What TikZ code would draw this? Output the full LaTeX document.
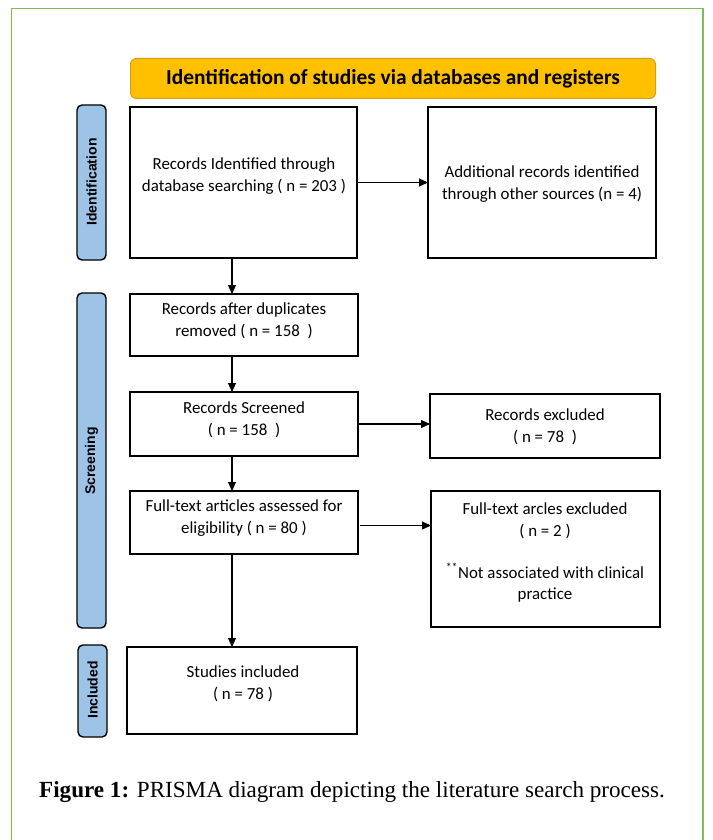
\documentclass[tikz,border=0pt]{standalone}
\usepackage{fontspec}
\setmainfont{Carlito}
\newfontfamily\arialf{Liberation Sans}
\newfontfamily\capf{Liberation Serif}
\usetikzlibrary{arrows.meta}
\definecolor{sideblue}{HTML}{9DC3E6}
\definecolor{bannerfill}{HTML}{FFC000}
\definecolor{bannerdraw}{HTML}{D4A017}
\definecolor{framegreen}{HTML}{7DBE55}
\begin{document}
\begin{tikzpicture}[x=1pt,y=-1pt,
  box/.style={draw=black, line width=1.2pt, fill=white, inner sep=0pt, outer sep=0pt, anchor=north west},
  side/.style={draw=black, line width=1.4pt, fill=sideblue, rounded corners=5pt},
  txt/.style={font=\fontsize{16.9}{21.5}\selectfont, align=center, inner sep=0pt},
  arr/.style={line width=1.1pt, -{Triangle[length=9pt,width=8pt]}},
  lab/.style={font=\arialf\bfseries\fontsize{14}{16}\selectfont, rotate=90, inner sep=0pt}]
\useasboundingbox (0,0) rectangle (712,840);
\fill[white] (0,0) rectangle (712,840);
% frame
\draw[framegreen, line width=1.2pt] (11.5,840) -- (11.5,8.5) -- (703,8.5) -- (703,840);
% banner
\node[draw=bannerdraw, fill=bannerfill, line width=1pt, rounded corners=6pt, minimum width=525pt, minimum height=40pt, inner sep=0pt, anchor=north west,
      font=\bfseries\fontsize{21.4}{24}\selectfont] (banner) at (130,58) {Identification of studies via databases and registers};
% side bars
\draw[side] (77,105) rectangle (106,260);
\draw[side] (77,293) rectangle (106,628);
\draw[side] (78,645) rectangle (107,737);
\node[lab] (l1) at (91.5,182) {Identification};
\node[lab] (l2) at (91.5,461) {Screening};
\node[lab] (l3) at (92.5,690) {Included};
% boxes
\node[box, minimum width=227pt, minimum height=151pt] (b1) at (130,107) {};
\node[box, minimum width=228pt, minimum height=151pt] (b2) at (428,107) {};
\node[box, minimum width=228pt, minimum height=62pt] (b3) at (130,294) {};
\node[box, minimum width=228pt, minimum height=64pt] (b4) at (130,392) {};
\node[box, minimum width=230pt, minimum height=64pt] (b5) at (430,394) {};
\node[box, minimum width=228pt, minimum height=63pt] (b6) at (130,491) {};
\node[box, minimum width=229pt, minimum height=136pt] (b7) at (431,491) {};
\node[box, minimum width=230pt, minimum height=87pt] (b8) at (127,647) {};
% texts
\node[txt] (t1) at (244,176) {Records Identified through\\database searching ( n = 203 )};
\node[txt] (t2) at (542,184) {Additional records identified\\through other sources (n = 4)};
\node[txt] (t3) at (244,321) {Records after duplicates\\removed ( n = 158~~)};
\node[txt] (t4) at (244,420) {Records Screened\\( n = 158~~)};
\node[txt] (t5) at (545,427) {Records excluded\\( n = 78~~)};
\node[txt] (t6) at (244,518) {Full-text articles assessed for\\eligibility ( n = 80 )};
\node[txt] (t7) at (545,521) {Full-text arcles excluded\\( n = 2 )};
\node[txt] (t7b) at (545,583) {\textsuperscript{**}Not associated with clinical\\practice};
\node[txt] (t8) at (243,684) {Studies included\\( n = 78 )};
% arrows
\coordinate (ax) at (232,0);
\draw[arr] (b1.east) -- (b2.west);
\draw[arr] (b1.south -| ax) -- (b3.north -| ax);
\draw[arr] (b3.south -| ax) -- (b4.north -| ax);
\draw[arr] (b4.south -| ax) -- (b6.north -| ax);
\draw[arr] (b6.south -| ax) -- (b8.north -| ax);
\draw[arr] (b4.east) -- (b4.east -| b5.west);
\draw[arr] (b6.east) ++(2,3) coordinate (c6) (c6) -- (c6 -| b7.west);
% caption
\node[anchor=base west, inner sep=0pt, font=\capf\fontsize{23.1}{26}\selectfont] (cap) at (39,797) {\textbf{Figure 1:} PRISMA diagram depicting the literature search process.};
\end{tikzpicture}
\end{document}
